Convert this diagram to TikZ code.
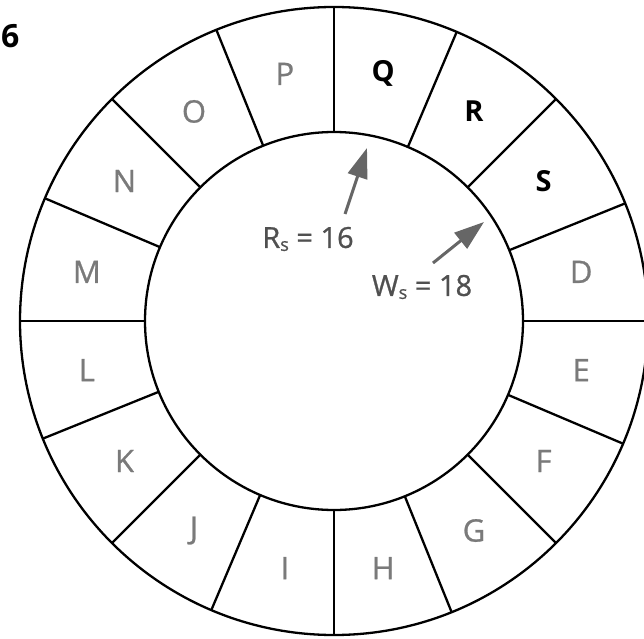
\documentclass[tikz,border=0pt]{standalone}
\usepackage{fontspec}
\setmainfont{Open Sans}
\newfontfamily\lblfont[FakeBold=0.8]{Open Sans}
\usetikzlibrary{arrows.meta,calc}
\definecolor{lblgray}{HTML}{7A7A7A}
\definecolor{txtgray}{HTML}{505050}
\definecolor{arrgray}{HTML}{666666}
\tikzset{
  ring/.style={circle, draw=black, line width=2.3pt, outer sep=0pt, inner sep=0pt},
  divider/.style={draw=black, line width=2.3pt},
  seglbl/.style={text=lblgray, font=\lblfont\fontsize{31}{31}\selectfont, inner sep=0pt},
  boldlbl/.style={text=black, font=\fontsize{29}{29}\selectfont\bfseries, inner sep=0pt},
  eqlbl/.style={text=txtgray, font=\lblfont\fontsize{29}{29}\selectfont, inner sep=0pt},
  ptr/.style={draw=arrgray, line width=3pt, -{Triangle[length=30pt,width=20pt]}},
}
\newcommand{\subs}[1]{{\fontsize{18}{18}\selectfont\raisebox{-3pt}{#1}}}
\begin{document}
\begin{tikzpicture}[x=1pt,y=1pt]
  \useasboundingbox (0,0) rectangle (644,638);
  \coordinate (C) at (334,317);
  \node[ring, minimum size=628pt] (outer) at (C) {};
  \node[ring, minimum size=378pt] (inner) at (C) {};
  \foreach \a in {0,22.5,...,337.5} {
    \draw[divider] (inner.\a) -- (outer.\a);
  }
  % segment labels
  \node[boldlbl] (Q) at ($(C)+(78.75:252)$) {Q};
  \node[boldlbl] (R) at ($(C)+(56.25:252)$) {R};
  \node[boldlbl] (S) at ($(C)+(33.75:252)$) {S};
  \node[seglbl] (D) at ($(C)+(11.25:252)$) {D};
  \node[seglbl] (E) at ($(C)+(-11.25:252)$) {E};
  \node[seglbl] (F) at ($(C)+(-33.75:252)$) {F};
  \node[seglbl] (G) at ($(C)+(-56.25:252)$) {G};
  \node[seglbl] (H) at ($(C)+(-78.75:252)$) {H};
  \node[seglbl] (I) at ($(C)+(-101.25:252)$) {I};
  \node[seglbl] (J) at ($(C)+(-123.75:252)$) {J};
  \node[seglbl] (K) at ($(C)+(-146.25:252)$) {K};
  \node[seglbl] (L) at ($(C)+(-168.75:252)$) {L};
  \node[seglbl] (M) at ($(C)+(168.75:252)$) {M};
  \node[seglbl] (N) at ($(C)+(146.25:252)$) {N};
  \node[seglbl] (O) at ($(C)+(123.75:252)$) {O};
  \node[seglbl] (P) at ($(C)+(101.25:252)$) {P};
  % title number
  \node[boldlbl, font=\fontsize{32}{32}\selectfont\bfseries, anchor=west] (num) at (1,602) {6};
  % pointer labels
  \node[eqlbl] (rs) at (308,399) {R\subs{s} = 16};
  \node[eqlbl] (ws) at (422,351) {W\subs{s} = 18};
  \coordinate (rstail) at (345,424);
  \coordinate (rstip) at (367,490);
  \coordinate (wstail) at (433,375);
  \coordinate (wstip) at (484,416);
  \draw[ptr] (rstail) -- (rstip);
  \draw[ptr] (wstail) -- (wstip);
\end{tikzpicture}
\end{document}
